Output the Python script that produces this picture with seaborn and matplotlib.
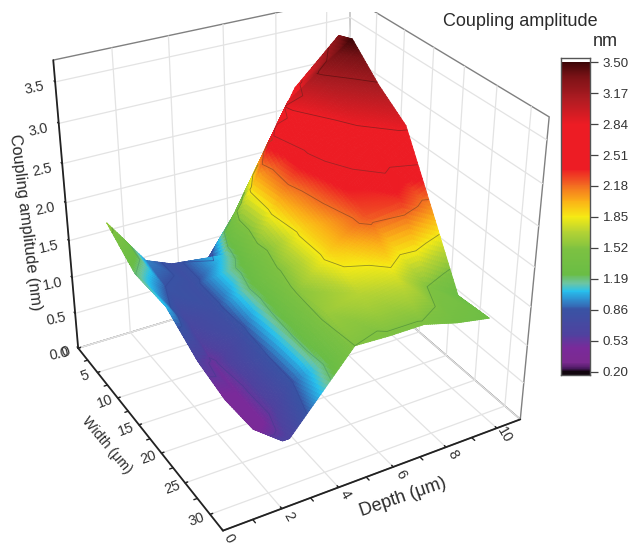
import numpy as np
import seaborn as sns
import matplotlib
matplotlib.use('Agg')
import matplotlib.pyplot as plt
import matplotlib.tri as mtri
from matplotlib.colors import LinearSegmentedColormap, Normalize
from matplotlib.patches import Rectangle
from mpl_toolkits.mplot3d import proj3d

# ---- data ----
width_um = [0, 5, 10, 15, 20, 25, 30]
depth_um = [2.75, 3.75, 5, 6.25, 7.5, 8.75, 10]      # inner columns
left_edge_depth = [1.4, 1.6, 1.9, 2.2, 2.3, 2.4, 2.5]  # irregular left boundary
amp_y0  = [1.60, 0.95, 0.80, 0.65, 1.25, 2.00, 2.75, 3.30]
amp_y5  = [1.20, 0.85, 0.80, 1.10, 2.00, 2.90, 3.20, 3.50]
amp_y10 = [1.05, 0.68, 0.80, 1.30, 2.05, 2.60, 2.95, 3.15]
amp_y15 = [0.60, 0.50, 0.76, 1.45, 1.95, 2.40, 2.68, 2.88]
amp_y20 = [0.43, 0.45, 0.82, 1.55, 1.95, 2.25, 2.30, 2.08]
amp_y25 = [0.40, 0.44, 0.84, 1.60, 1.70, 1.78, 1.52, 1.27]
amp_y30 = [0.62, 0.62, 1.02, 1.52, 1.50, 1.50, 1.38, 1.30]
contour_levels = [0.53, 0.86, 1.19, 1.52, 1.85, 2.18, 2.51, 2.84, 3.17]
contour_colors = ['#4a3a92', '#34499a', '#4f9f6a', '#4f8f3a', '#6f6f2a', '#8a4a24', '#8a2626', '#7a2020', '#5a1010']
cbar_ticks = [3.50, 3.17, 2.84, 2.51, 2.18, 1.85, 1.52, 1.19, 0.86, 0.53, 0.20]
cmap_values = [0.20, 0.23, 0.30, 0.45, 0.60, 0.86, 0.97, 1.06, 1.14, 1.24, 1.50,
               1.70, 1.85, 2.02, 2.20, 2.36, 2.84, 3.10, 3.35, 3.50]
cmap_colors = ['#12060f', '#4a1a60', '#7b2a90', '#7a2a9a', '#4f429f', '#3953a4', '#2f8fd0',
               '#27c1ee', '#6cc5a4', '#6abd45', '#7cc142', '#b8d433', '#f6eb14', '#fbb017',
               '#f26522', '#ed1c24', '#ed1c24', '#b01c22', '#7a1216', '#3c0507']
x_ticks = [0, 2, 4, 6, 8, 10]
y_ticks = [0, 5, 10, 15, 20, 25, 30]
z_ticks = [0.0, 0.5, 1.0, 1.5, 2.0, 2.5, 3.0, 3.5]

W, H = 632, 546
XMAX, YMAX, ZMAX = 10.946, 32.479, 3.757
sns.set_theme(style='white', font='Liberation Sans')
plt.rcParams['font.family'] = ['Liberation Sans', 'DejaVu Sans']
fig = plt.figure(figsize=(W / 100, H / 100), dpi=100, facecolor='white')

norm = Normalize(0.2, 3.5)
vmin, vmax = norm.vmin, norm.vmax
cmap = LinearSegmentedColormap.from_list(
    'coupling', [((v - vmin) / (vmax - vmin), c) for v, c in zip(cmap_values, cmap_colors)], N=1024)

# ---- 3-D surface ----
ax = fig.add_axes([-3.672 / W, 7.383 / H, 574.902 / W, 574.902 / H], projection='3d',
                  computed_zorder=False)
ax.patch.set_alpha(0)
ax.view_init(elev=30.377, azim=-119.727)
ax.set_proj_type('persp', focal_length=0.485)
ax.set_box_aspect((371.234, 372.633, 370.422))

Z = np.array([amp_y0, amp_y5, amp_y10, amp_y15, amp_y20, amp_y25, amp_y30])
X = np.array([[l] + depth_um for l in left_edge_depth])
X[0, -1] = 10.5
Y = np.array([[w] * X.shape[1] for w in width_um], float)
nr, nc = Z.shape
ids = np.arange(nr * nc).reshape(nr, nc)
triangles = []
for r in range(nr - 1):
    for c in range(nc - 1):
        triangles.append([ids[r, c], ids[r, c + 1], ids[r + 1, c + 1]])
        triangles.append([ids[r, c], ids[r + 1, c + 1], ids[r + 1, c]])
tri = mtri.Triangulation(X.ravel(), Y.ravel(), triangles)
# sub-divide the facets only so that the colour runs smoothly inside each one
refiner = mtri.UniformTriRefiner(tri)
tri_fine, z_fine = refiner.refine_field(Z.ravel(), triinterpolator=mtri.LinearTriInterpolator(tri, Z.ravel()), subdiv=4)
surf = ax.plot_trisurf(tri_fine, z_fine, cmap=cmap, norm=norm, shade=False, linewidth=0.6,
                       antialiased=True, zorder=2)
surf.set_edgecolor('face')
ax.tricontour(tri, Z.ravel(), levels=contour_levels, colors=contour_colors, linewidths=0.6,
              alpha=0.75, zorder=3)

ax.set_xlim(0, XMAX)
ax.set_ylim(YMAX, 0)
ax.set_zlim(0, ZMAX)
ax.set_xticks(x_ticks)
ax.set_yticks(y_ticks)
ax.set_zticks(z_ticks)
ax.set_zticklabels([f'{t:.1f}' for t in z_ticks], rotation=12, fontsize=10.4, color='#333333')
ax.tick_params(axis='x', labelbottom=False, labeltop=False, labelleft=False, labelright=False)
ax.tick_params(axis='y', labelbottom=False, labeltop=False, labelleft=False, labelright=False)
ax.tick_params(axis='z', pad=2)
for a in (ax.xaxis, ax.yaxis, ax.zaxis):
    a.set_pane_color((1, 1, 1, 1))
    a.pane.set_edgecolor('#808080')
    a.pane.set_linewidth(1.0)
    a.line.set_color('#222222')
    a.line.set_linewidth(1.3)
    a._axinfo['grid'].update(color='#e3e3e3', linewidth=0.9, linestyle='-')
    a._axinfo['tick'].update(inward_factor=0.0, outward_factor=0.1, color='#222222',
                             linewidth={True: 1.1, False: 0.8})
ax.grid(True)
ax.zaxis.set_ticks_position('lower')

# minor ticks, half way between the major ones
for xm in np.add(x_ticks[:-1], 1):
    ax.plot([xm, xm], [YMAX, YMAX + 0.5], [0, 0], color='#222222', lw=1, zorder=1)
for ym in np.add(y_ticks[:-1], 2.5):
    ax.plot([0, -0.12], [ym, ym], [0, 0], color='#222222', lw=1, zorder=1)
ax.set_xlim(0, XMAX)
ax.set_ylim(YMAX, 0)
ax.set_zlim(0, ZMAX)


# tick labels of the two floor axes, rotated and set just off the axis lines
def floor_label(x, y, s, angle):
    ax.apply_aspect()
    xp, yp, _ = proj3d.proj_transform(x, y, 0, ax.get_proj())
    ax.text2D(xp, yp, s, transform=ax.transData, rotation=angle, ha='center', va='center',
              fontsize=10.4, color='#333333', zorder=5)


for t in x_ticks:
    floor_label(t, YMAX + 1.2, str(t), -60)
for t in y_ticks:
    floor_label(-0.45, t, str(t), 20)

# the top of the reference is cropped around the back corner
fig.add_artist(Rectangle((270 / W, 1 - 11.5 / H), 115 / W, 11.5 / H, transform=fig.transFigure,
                         facecolor='white', edgecolor='none', zorder=10))

# ---- axis titles ----
lab = '#2b2b2b'
fig.text(25 / W, 1 - 222 / H, 'Coupling amplitude (nm)', rotation=-83, ha='center', va='center',
         fontsize=11.7, color=lab)
fig.text(107 / W, 1 - 445 / H, 'Width (\u03bcm)', rotation=-50, ha='center', va='center',
         fontsize=10.2, color=lab)
fig.text(403 / W, 1 - 497 / H, 'Depth (\u03bcm)', rotation=19, ha='center', va='center',
         fontsize=13, color=lab)

# ---- colour bar drawn as a seaborn heat map ----
cax = fig.add_axes([561 / W, 1 - 375 / H, 29 / W, 317 / H])
cells = np.round(3.5 - 0.01 * np.arange(334), 2).reshape(-1, 1)
sns.heatmap(cells, ax=cax, cmap=cmap, vmin=vmin, vmax=vmax, cbar=False, xticklabels=False,
            yticklabels=False, linewidths=0, rasterized=True)
cax.set_ylim(334, -3.9)
cax.set_yticks([(3.5 - t) / 0.01 + 0.5 for t in cbar_ticks])
cax.set_yticklabels([f'{t:.2f}' for t in cbar_ticks], rotation=0, fontsize=9.6, color='#333333')
cax.yaxis.tick_right()
cax.tick_params(axis='y', length=6, width=0.9, color='#444444', pad=3, right=True)
for s in cax.spines.values():
    s.set_visible(True)
    s.set_color('#555555')
    s.set_linewidth(1.0)

fig.text(520 / W, 1 - 21 / H, 'Coupling amplitude', ha='center', va='center', fontsize=13, color='#2b2b2b')
fig.text(605.5 / W, 1 - 41 / H, 'nm', ha='center', va='center', fontsize=13, color='#2b2b2b')

fig.savefig('out.png', dpi=100, facecolor='white')
